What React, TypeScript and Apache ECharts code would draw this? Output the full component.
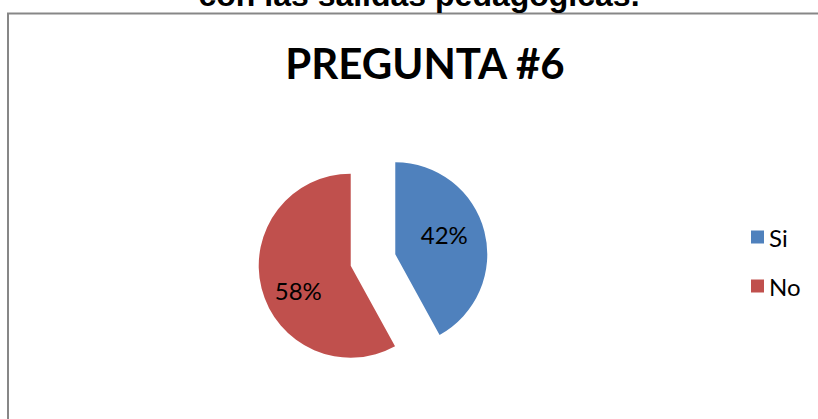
import React, { useEffect, useRef } from "react";
import * as echarts from "echarts";

const categories = ["Si", "No"];
const values = [42, 58];
const colors = ["#4F81BD", "#C0504D"];
const chartTitle = "PREGUNTA #6";
const heading = "con las salidas pedagógicas.";

export default function App() {
  const ref = useRef<HTMLDivElement>(null);
  useEffect(() => {
    const chart = echarts.init(ref.current!, null, { renderer: "svg" });
    const labelShift = [
      [1.5, -7.5],
      [-5, 13],
    ];
    chart.setOption({
      animation: false,
      backgroundColor: "#ffffff",
      title: {
        text: chartTitle,
        left: 420,
        top: 37,
        textAlign: "center",
        textStyle: {
          fontFamily: "Lato",
          fontWeight: "bold",
          fontSize: 42,
          color: "#000000",
        },
      },
      legend: {
        orient: "vertical",
        left: 746,
        top: 220,
        itemWidth: 13,
        itemHeight: 13,
        itemGap: 25,
        icon: "rect",
        data: categories,
        selectedMode: false,
        textStyle: {
          fontFamily: "Lato",
          fontSize: 24,
          lineHeight: 24,
          color: "#000000",
        },
      },
      graphic: [
        {
          type: "rect",
          shape: { x: 8, y: 13.5, width: 840, height: 440 },
          style: { fill: "none", stroke: "#878787", lineWidth: 2 },
          silent: true,
        },
        {
          type: "text",
          x: 419,
          y: -5,
          style: {
            text: heading,
            font: 'bold 32px "Liberation Sans", Arial, sans-serif',
            fill: "#000000",
            align: "center",
            verticalAlign: "middle",
          },
          silent: true,
        },
      ],
      series: [
        {
          type: "pie",
          center: [373, 260],
          radius: 92,
          startAngle: 90,
          clockwise: true,
          selectedMode: "multiple",
          selectedOffset: 23,
          avoidLabelOverlap: false,
          emphasis: { disabled: true },
          labelLine: { show: false },
          labelLayout: (params: any) => ({
            dx: labelShift[params.dataIndex][0],
            dy: labelShift[params.dataIndex][1],
          }),
          data: categories.map((name, i) => ({
            name,
            value: values[i],
            selected: true,
            itemStyle: { color: colors[i] },
          })),
          label: {
            show: true,
            position: "inside",
            formatter: "{c}%",
            fontFamily: "Lato",
            fontSize: 24,
            color: "#000000",
          },
        },
      ],
    });
    return () => chart.dispose();
  }, []);
  return (
    <div
      ref={ref}
      style={{
        position: "absolute",
        left: 0,
        top: 0,
        width: 818,
        height: 419,
        background: "#ffffff",
      }}
    />
  );
}
